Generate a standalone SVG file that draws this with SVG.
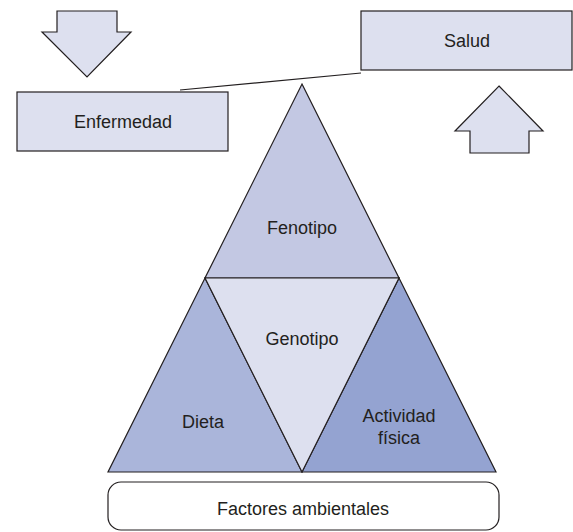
<svg xmlns="http://www.w3.org/2000/svg" width="573" height="532" viewBox="0 0 573 532">
<style>
.s{stroke:#231f20;stroke-width:1.2;stroke-linejoin:miter}
.lt{fill:#dde0ef}
.t{font-family:"Liberation Sans",Arial,sans-serif;font-size:18px;fill:#231f20;text-anchor:middle}
</style>
<rect width="573" height="532" fill="#fff"/>
<g id="arrow-down"><polygon class="s lt" points="57,11 117,11 117,32 131,32 87,77 42,32 57,32"/></g>
<g id="arrow-up"><polygon class="s lt" points="499,86 543,131 529,131 529,153 470,153 470,131 455,131"/></g>
<g id="connectors"><line class="s" x1="180" y1="90" x2="361" y2="73" fill="none"/></g>
<g id="enfermedad"><rect class="s lt" x="17" y="92" width="211" height="59"/><text class="t" x="123" y="128">Enfermedad</text></g>
<g id="salud"><rect class="s lt" x="361" y="11" width="211" height="59"/><text class="t" x="467" y="47">Salud</text></g>
<g id="fenotipo"><polygon class="s" fill="#c3c8e3" points="302,84 399,278 205,278"/><text class="t" x="302" y="234">Fenotipo</text></g>
<g id="dieta"><polygon class="s" fill="#aab5da" points="205,278 302,472 108,472"/><text class="t" x="203" y="428">Dieta</text></g>
<g id="actividad"><polygon class="s" fill="#94a3d1" points="399,278 496,472 302,472"/><text class="t" x="399" y="422">Actividad</text><text class="t" x="399" y="444">física</text></g>
<g id="genotipo"><polygon class="s lt" points="205,278 399,278 302,472"/><text class="t" x="302" y="345">Genotipo</text></g>
<g id="factores"><rect class="s" fill="#fff" x="108" y="482" width="391" height="48" rx="13"/><text class="t" x="303" y="515">Factores ambientales</text></g>
</svg>
